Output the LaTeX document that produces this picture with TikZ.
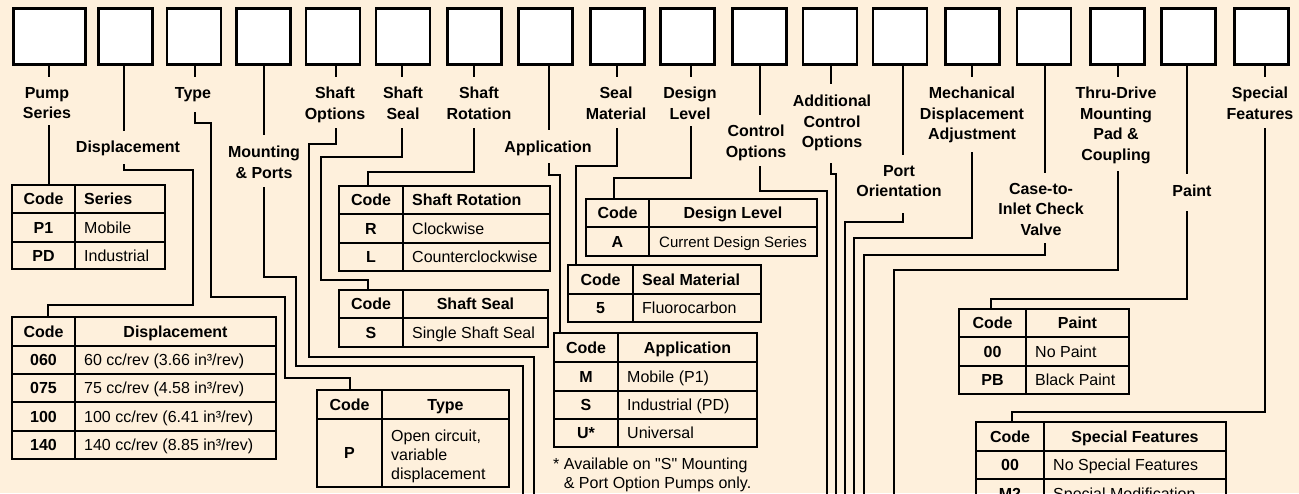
\documentclass[tikz,border=0pt]{standalone}
\usepackage{fontspec}
\setmainfont{Liberation Sans}[Ligatures=TeXOff]
\usetikzlibrary{fit}
\definecolor{bg}{RGB}{254,240,220}
\newcommand\mygrid[6]{\draw[grid] (#5,#2) -- (#5,#4); \foreach \r in {#6} {\draw[grid] (#1,\r) -- (#3,\r);}}
\begin{document}
\begin{tikzpicture}[x=1pt,y=-1pt,
  box/.style={draw, line width=2.8pt, fill=white, inner sep=0, minimum width=54pt, minimum height=56pt},
  lbl/.style={font=\bfseries\fontsize{16}{20.5}\selectfont, align=center, inner sep=0, anchor=north},
  conn/.style={line width=2.5pt},
  tbl/.style={draw, line width=2pt, inner sep=0},
  grid/.style={line width=2pt},
  hd/.style={font=\bfseries\fontsize{16}{19}\selectfont, inner sep=0, text height=11.5pt, text depth=0pt},
  tx/.style={font=\fontsize{16}{19}\selectfont, inner sep=0, text height=11.5pt, text depth=0pt, anchor=west},
  txc/.style={font=\fontsize{16}{19}\selectfont, inner sep=0, text height=11.5pt, text depth=0pt},
]
\useasboundingbox (0,0) rectangle (1299,493);
\fill[bg] (0,0) rectangle (1299,493);
\clip (0,0) rectangle (1299,493);

% top boxes
\node[box, minimum width=72pt] (b1) at (49.5,36.5) {};
\foreach \i/\x in {2/125.5,3/194,4/263.5,5/333,6/403,7/474.5,8/545.5,9/617.5,10/687.5,11/759.5,12/830,13/900,14/972.5,15/1044,16/1117.5,17/1188.5,18/1261.5}
  {\node[box] (b\i) at (\x,36.5) {};}

% stems from boxes
\foreach \i/\x/\y in {1/49/77,2/124/131,3/195/77,4/264/135,5/336/77,6/402/77,7/474/77,8/549/130,9/617/77,10/691/77,11/760/115,12/831/84,13/903/155,14/972/77,15/1045/173,16/1118/77,17/1187/174,18/1265/77}
  {\coordinate (s\i) at (\x,\y); \draw[conn] (b\i.south -| s\i) -- (s\i);}

% labels
\node[lbl] (l1) at (47,87) {Pump\\Series};
\node[lbl] (l2) at (128,141) {Displacement};
\node[lbl] (l3) at (193,87) {Type};
\node[lbl] (l4) at (264,146) {Mounting\\\& Ports};
\node[lbl] (l5) at (335,87) {Shaft\\Options};
\node[lbl] (l6) at (403,87) {Shaft\\Seal};
\node[lbl] (l7) at (479,87) {Shaft\\Rotation};
\node[lbl] (l8) at (548,141) {Application};
\node[lbl] (l9) at (616,87) {Seal\\Material};
\node[lbl] (l10) at (690,87) {Design\\Level};
\node[lbl] (l11) at (756,125) {Control\\Options};
\node[lbl] (l12) at (832,95) {Additional\\Control\\Options};
\node[lbl] (l13) at (899,165) {Port\\Orientation};
\node[lbl] (l14) at (972,87) {Mechanical\\Displacement\\Adjustment};
\node[lbl] (l15) at (1041,183) {Case-to-\\Inlet Check\\Valve};
\node[lbl] (l16) at (1116,87) {Thru-Drive\\Mounting\\Pad \&\\Coupling};
\node[lbl] (l17) at (1192,185) {Paint};
\node[lbl] (l18) at (1260,87) {Special\\Features};

% tables (outer frames)
\node[tbl, fit={(12,185) (165,269)}] (t1) {};
\node[tbl, fit={(12,317) (276,459)}] (t2) {};
\node[tbl, fit={(317,390) (509,487)}] (t3) {};
\node[tbl, fit={(339,290) (548,347)}] (t6) {};
\node[tbl, fit={(339,186) (550,271)}] (t7) {};
\node[tbl, fit={(554,333) (757,447)}] (t8) {};
\node[tbl, fit={(568,265) (761,322)}] (t9) {};
\node[tbl, fit={(586,199) (817,256)}] (t10) {};
\node[tbl, fit={(959,309) (1129,394)}] (t17) {};
\node[tbl, fit={(976,422) (1226,508)}] (t18) {};

% table grids
\mygrid{12}{185}{165}{269}{75}{213,242}
\mygrid{12}{317}{276}{459}{75}{346,374,402,431}
\mygrid{317}{390}{509}{487}{382}{419}
\mygrid{339}{290}{548}{347}{403}{318}
\mygrid{339}{186}{550}{271}{403}{214,243}
\mygrid{554}{333}{757}{447}{618}{362,391,419}
\mygrid{568}{265}{761}{322}{633}{294}
\mygrid{586}{199}{817}{256}{649}{227}
\mygrid{959}{309}{1129}{394}{1026}{337,366}
\mygrid{976}{422}{1226}{508}{1044}{451,479}

% connectors below labels
\foreach \i/\x/\y in {1/49/125,2/124/164,3/195/112,4/264/187,5/336/128,6/402/128,7/474/128,8/549/163,9/617/128,10/691/126,11/760/166,12/831/163,13/903/213,14/972/152,15/1045/243,16/1118/171,17/1187/211,18/1265/128}
  {\coordinate (r\i) at (\x,\y);}
\coordinate (k2) at (48,305);
\coordinate (k3) at (350,378);
\coordinate (k6) at (368,280);
\coordinate (k7) at (368,172);
\coordinate (k8) at (560,175);
\coordinate (k9) at (576,166);
\coordinate (k10) at (614,178);
\coordinate (k17) at (991,299);
\coordinate (k18) at (1012,412);
\foreach \i/\x in {4/523,5/534,11/827,12/836,13/845,14/854,15/864,16/894}
  {\coordinate (e\i) at (\x,500);}

\draw[conn] (r1) -- (r1 |- t1.north);
\draw[conn] (r2) -- (124,170) -- (193,170) -- (193,305) -- (k2) -- (k2 |- t2.north);
\draw[conn] (r3) -- (195,123) -- (211,123) -- (211,297) -- (285,297) -- (285,378) -- (k3) -- (k3 |- t3.north);
\draw[conn] (r4) -- (264,277) -- (296,277) -- (296,366) -- (523,366) -- (e4);
\draw[conn] (r5) -- (336,144) -- (309,144) -- (309,357) -- (534,357) -- (e5);
\draw[conn] (r6) -- (402,157) -- (321,157) -- (321,280) -- (k6) -- (k6 |- t6.north);
\draw[conn] (r7) -- (474,172) -- (k7) -- (k7 |- t7.north);
\draw[conn] (r8) -- (549,175) -- (k8) -- (k8 |- t8.north);
\draw[conn] (r9) -- (617,166) -- (k9) -- (k9 |- t9.north);
\draw[conn] (r10) -- (691,178) -- (k10) -- (k10 |- t10.north);
\draw[conn] (r11) -- (760,191) -- (827,191) -- (e11);
\draw[conn] (r12) -- (831,174) -- (836,174) -- (e12);
\draw[conn] (r13) -- (903,222) -- (845,222) -- (e13);
\draw[conn] (r14) -- (972,238) -- (854,238) -- (e14);
\draw[conn] (r15) -- (1045,255) -- (864,255) -- (e15);
\draw[conn] (r16) -- (1118,270) -- (894,270) -- (e16);
\draw[conn] (r17) -- (1187,299) -- (k17) -- (k17 |- t17.north);
\draw[conn] (r18) -- (1265,412) -- (k18) -- (k18 |- t18.north);

% table texts
% Series
\node[hd] (t1h1) at (43.5,199) {Code};
\node[hd, anchor=west] (t1h2) at (84,199) {Series};
\node[hd] (t1c1) at (43.5,227.5) {P1};
\node[tx] (t1d1) at (84,227.5) {Mobile};
\node[hd] (t1c2) at (43.5,255.5) {PD};
\node[tx] (t1d2) at (84,255.5) {Industrial};
% Displacement
\node[hd] (t2h1) at (43.5,331.5) {Code};
\node[hd] (t2h2) at (175.5,331.5) {Displacement};
\node[hd] (t2c1) at (43.5,360) {060};
\node[tx] (t2d1) at (84,360) {60 cc/rev (3.66 in³/rev)};
\node[hd] (t2c2) at (43.5,388) {075};
\node[tx] (t2d2) at (84,388) {75 cc/rev (4.58 in³/rev)};
\node[hd] (t2c3) at (43.5,416.5) {100};
\node[tx] (t2d3) at (84,416.5) {100 cc/rev (6.41 in³/rev)};
\node[hd] (t2c4) at (43.5,445) {140};
\node[tx] (t2d4) at (84,445) {140 cc/rev (8.85 in³/rev)};
% Type
\node[hd] (t3h1) at (349.5,404.5) {Code};
\node[hd] (t3h2) at (445.5,404.5) {Type};
\node[hd] (t3c1) at (349.5,453) {P};
\node[font=\fontsize{16}{19}\selectfont, inner sep=0, align=left, anchor=north west] (t3d1) at (391,430) {Open circuit,\\variable\\displacement};
% Shaft Seal
\node[hd] (t6h1) at (371,304) {Code};
\node[hd] (t6h2) at (475.5,304) {Shaft Seal};
\node[hd] (t6c1) at (371,332.5) {S};
\node[tx] (t6d1) at (412,332.5) {Single Shaft Seal};
% Shaft Rotation
\node[hd] (t7h1) at (371,200) {Code};
\node[hd, anchor=west] (t7h2) at (412,200) {Shaft Rotation};
\node[hd] (t7c1) at (371,228.5) {R};
\node[tx] (t7d1) at (412,228.5) {Clockwise};
\node[hd] (t7c2) at (371,257) {L};
\node[tx] (t7d2) at (412,257) {Counterclockwise};
% Application
\node[hd] (t8h1) at (586,347.5) {Code};
\node[hd] (t8h2) at (687.5,347.5) {Application};
\node[hd] (t8c1) at (586,376.5) {M};
\node[tx] (t8d1) at (627,376.5) {Mobile (P1)};
\node[hd] (t8c2) at (586,405) {S};
\node[tx] (t8d2) at (627,405) {Industrial (PD)};
\node[hd] (t8c3) at (586,433) {U*};
\node[tx] (t8d3) at (627,433) {Universal};
\node[font=\fontsize{16}{19}\selectfont, inner sep=0, align=left, anchor=north west] (fn) at (553,458) {* Available on "S" Mounting\\\hphantom{* }\& Port Option Pumps only.};
% Seal Material
\node[hd] (t9h1) at (600.5,279.5) {Code};
\node[hd, anchor=west] (t9h2) at (642,279.5) {Seal Material};
\node[hd] (t9c1) at (600.5,308) {5};
\node[tx] (t9d1) at (642,308) {Fluorocarbon};
% Design Level
\node[hd] (t10h1) at (617.5,213) {Code};
\node[hd] (t10h2) at (733,213) {Design Level};
\node[hd] (t10c1) at (617.5,241.5) {A};
\node[txc, font=\fontsize{15}{18}\selectfont] (t10d1) at (733,241.5) {Current Design Series};
% Paint
\node[hd] (t17h1) at (992.5,323) {Code};
\node[hd] (t17h2) at (1077.5,323) {Paint};
\node[hd] (t17c1) at (992.5,351.5) {00};
\node[tx] (t17d1) at (1035,351.5) {No Paint};
\node[hd] (t17c2) at (992.5,380) {PB};
\node[tx] (t17d2) at (1035,380) {Black Paint};
% Special Features
\node[hd] (t18h1) at (1010,436.5) {Code};
\node[hd] (t18h2) at (1135,436.5) {Special Features};
\node[hd] (t18c1) at (1010,465) {00};
\node[tx] (t18d1) at (1053,465) {No Special Features};
\node[hd] (t18c2) at (1010,493.5) {M2};
\node[tx] (t18d2) at (1053,493.5) {Special Modification};
\end{tikzpicture}
\end{document}
